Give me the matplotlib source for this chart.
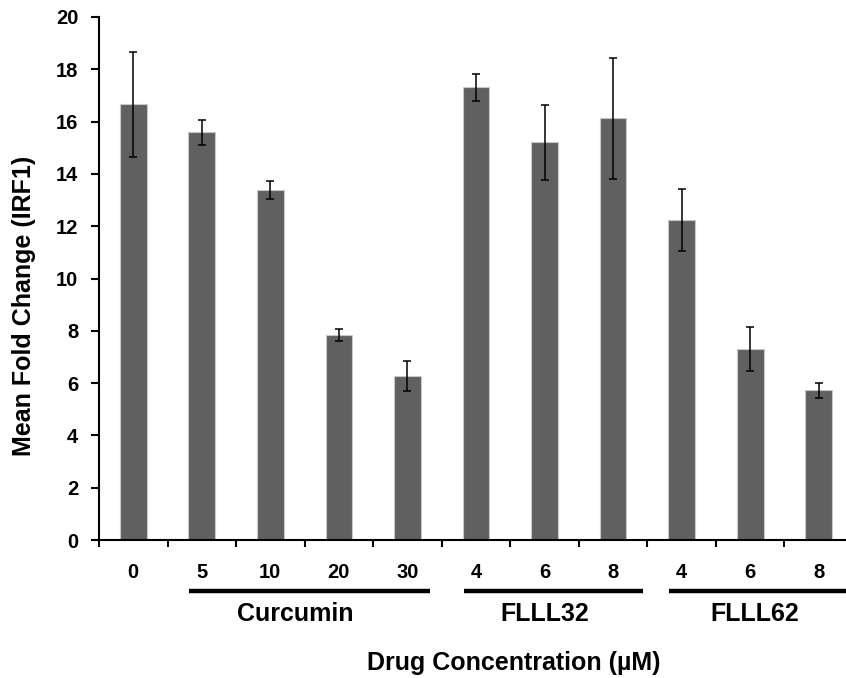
import matplotlib
matplotlib.use("Agg")
import matplotlib.pyplot as plt
import numpy as np

plt.rcParams['font.family'] = ['Liberation Sans', 'DejaVu Sans']
plt.rcParams['font.weight'] = 'bold'

tick_labels = ["0", "5", "10", "20", "30", "4", "6", "8", "4", "6", "8"]
means = [16.66, 15.59, 13.38, 7.85, 6.27, 17.31, 15.21, 16.12, 12.24, 7.30, 5.72]
errors = [2.0, 0.48, 0.35, 0.23, 0.58, 0.52, 1.43, 2.3, 1.18, 0.83, 0.30]
groups = ["Curcumin", "FLLL32", "FLLL62"]
group_spans = [(0.81, 4.33), (4.82, 7.44), (7.82, 10.9)]
group_label_x = [2.37, 6.0, 9.06]

W, H = 846, 678
Y0, YTOP = 540, 17
fig = plt.figure(figsize=(W / 100, H / 100), dpi=100)
ax = fig.add_axes([99 / W, 1 - Y0 / H, (853 - 99) / W, (Y0 - YTOP) / H])

x = np.arange(len(means))
ax.bar(x, means, width=0.39, color="#606060", edgecolor="#c8c8c8", linewidth=0.8,
       yerr=errors, error_kw=dict(ecolor="black", elinewidth=1.1, capsize=3, capthick=1.1),
       zorder=2)

ax.set_xlim(-0.5, len(means) - 0.5)
ax.set_ylim(0, 20)
ax.set_yticks(np.arange(0, 21, 2))
ax.set_yticklabels([str(v) for v in range(0, 21, 2)], fontsize=14.5, fontweight='bold')

ax.set_xticks(np.arange(-0.5, len(means), 1.0))
ax.set_xticklabels([])
ax.tick_params(axis='x', direction='out', length=5, width=1.5)
ax.tick_params(axis='y', direction='out', length=6, width=1.5, pad=9)

for s in ["top", "right"]:
    ax.spines[s].set_visible(False)
ax.spines["left"].set_linewidth(1.5)
ax.spines["bottom"].set_linewidth(1.5)

trans = ax.get_xaxis_transform()
span = Y0 - YTOP


def yfrac(py):
    return -(py - Y0) / span


for xi, lab in zip(x, tick_labels):
    ax.text(xi, yfrac(573), lab, transform=trans, ha="center", va="center",
            fontsize=14.5, fontweight='bold', clip_on=False)

for g, (a, b), gx in zip(groups, group_spans, group_label_x):
    ax.plot([a, b], [yfrac(591), yfrac(591)], transform=trans, color="black", linewidth=3.2,
            solid_capstyle="butt", clip_on=False)
    ax.text(gx, yfrac(614), g, transform=trans, ha="center", va="center",
            fontsize=18, fontweight='bold', clip_on=False)

fig.text(514 / W, 1 - 663 / H, "Drug Concentration (µM)",
         ha="center", va="center", fontsize=18, fontweight='bold')
fig.text(24 / W, 1 - 306 / H, "Mean Fold Change (IRF1)", rotation=90,
         ha="center", va="center", fontsize=18, fontweight='bold')

fig.savefig("out.png", dpi=100)
